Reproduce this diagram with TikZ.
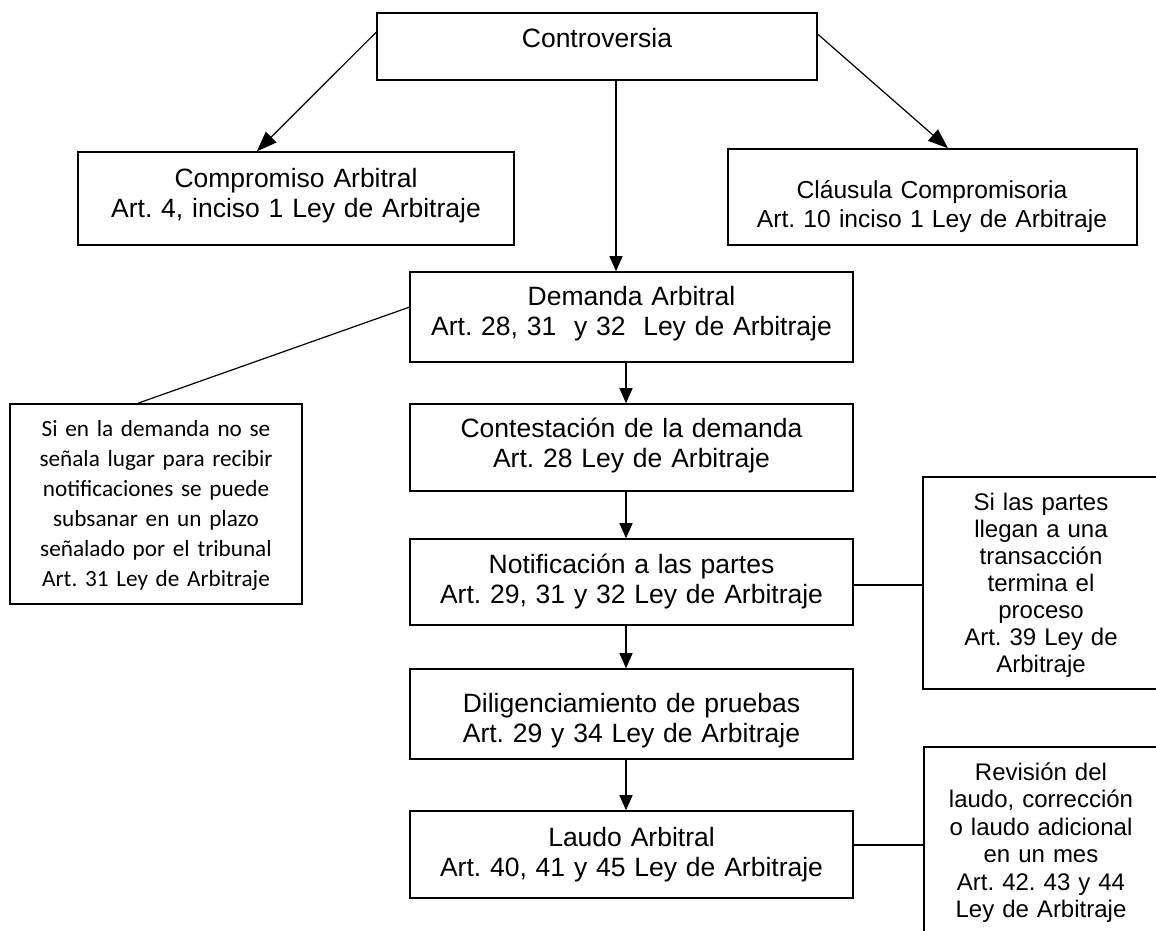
\documentclass[tikz,border=0pt]{standalone}
\usepackage{fontspec}
\setmainfont{Liberation Sans}
\newfontfamily\calibrifont{Carlito}
\usetikzlibrary{arrows.meta,calc}
\frenchspacing

\begin{document}
\begin{tikzpicture}[x=1pt,y=-1pt,
  box/.style={draw, line width=1.6pt, rectangle, inner sep=0pt},
  lbl/.style={anchor=base, align=center, inner sep=0pt, text width=#1},
  lbl/.default=440pt,
  bigfont/.style={font=\fontsize{26.5}{30}\selectfont},
  arr/.style={line width=1.2pt, -{Triangle[length=15pt,width=13pt]}},
  diagarr/.style={line width=1.2pt, -{Triangle[length=20pt,width=15pt]}},
  link/.style={line width=1.2pt}]
\useasboundingbox (0,0) rectangle (1156,930);
\clip (0,0) rectangle (1156,930);
\fill[white] (0,0) rectangle (1156,930);

% boxes
\node[box, minimum width=440pt, minimum height=67pt] (ctr) at (597,46.5) {};
\node[box, minimum width=436pt, minimum height=93pt] (comp) at (296,198.5) {};
\node[box, minimum width=409pt, minimum height=96pt] (clau) at (932.5,197) {};
\node[box, minimum width=443pt, minimum height=90pt] (dem) at (631.5,317) {};
\node[box, minimum width=443pt, minimum height=87pt] (con) at (631.5,447.5) {};
\node[box, minimum width=443pt, minimum height=86pt] (noti) at (631.5,582) {};
\node[box, minimum width=443pt, minimum height=90pt] (dil) at (631.5,714) {};
\node[box, minimum width=443pt, minimum height=87pt] (lau) at (631.5,854.5) {};
\node[box, minimum width=292pt, minimum height=200pt] (lft) at (156,504) {};
\node[box, minimum width=237pt, minimum height=212pt] (rone) at (1041.5,583) {};
\node[box, minimum width=236pt, minimum height=193pt] (rtwo) at (1042,843.5) {};

% texts
\node[lbl, bigfont] (ctrT) at (597,47) {Controversia};
\node[lbl, bigfont] (compT) at (296,187) {Compromiso Arbitral\\Art. 4, inciso 1 Ley de Arbitraje};
\node[lbl=400pt, font=\fontsize{24.6}{29}\selectfont] (clauT) at (932,198) {Cláusula Compromisoria\\Art. 10 inciso 1 Ley de Arbitraje};
\node[lbl, bigfont] (demT) at (631.5,305) {Demanda Arbitral\\Art. 28, 31\ \ y 32\ \ Ley de Arbitraje};
\node[lbl, bigfont] (conT) at (631.5,437) {Contestación de la demanda\\Art. 28 Ley de Arbitraje};
\node[lbl, bigfont] (notiT) at (631.5,573) {Notificación a las partes\\Art. 29, 31 y 32 Ley de Arbitraje};
\node[lbl, bigfont] (dilT) at (631.5,712) {Diligenciamiento de pruebas\\Art. 29 y 34 Ley de Arbitraje};
\node[lbl, bigfont] (lauT) at (631.5,846) {Laudo Arbitral\\Art. 40, 41 y 45 Ley de Arbitraje};
\node[lbl=290pt, font=\calibrifont\fontsize{23.2}{30}\selectfont] (lftT) at (156,436)
  {Si en la demanda no se\\señala lugar para recibir\\notificaciones se puede\\subsanar en un plazo\\señalado por el tribunal\\Art. 31 Ley de Arbitraje};
\node[lbl=230pt, font=\fontsize{24}{27}\selectfont] (roneT) at (1041,510)
  {Si las partes\\llegan a una\\transacción\\termina el\\proceso\\Art. 39 Ley de\\Arbitraje};
\node[lbl=230pt, font=\fontsize{24}{27.5}\selectfont] (rtwoT) at (1041,780)
  {Revisión del\\laudo, corrección\\o laudo adicional\\en un mes\\Art. 42. 43 y 44\\Ley de Arbitraje};

% connectors
\draw[diagarr] ([yshift=-20pt]ctr.north west) -- ([xshift=-39pt]comp.north);
\draw[diagarr] ([yshift=-22pt]ctr.north east) -- ([xshift=15.5pt]clau.north);
\draw[arr] ([xshift=19pt]ctr.south) -- ([xshift=-15.5pt]dem.north);
\draw[arr] ([xshift=-5.5pt]dem.south) -- ([xshift=-5.5pt]con.north);
\draw[arr] ([xshift=-5.5pt]con.south) -- ([xshift=-5.5pt]noti.north);
\draw[arr] ([xshift=-5.5pt]noti.south) -- ([xshift=-5.5pt]dil.north);
\draw[arr] ([xshift=-5.5pt]dil.south) -- ([xshift=-5.5pt]lau.north);
\draw[link] ([yshift=-36pt]dem.north west) -- ([xshift=-18pt]lft.north);
\draw[link] ([yshift=-3pt]noti.east) -- ([yshift=-3pt]noti.east -| rone.west);
\draw[link, line width=1.6pt] ([yshift=9.5pt]lau.east) -- ([yshift=9.5pt]lau.east -| rtwo.west);
\end{tikzpicture}
\end{document}
